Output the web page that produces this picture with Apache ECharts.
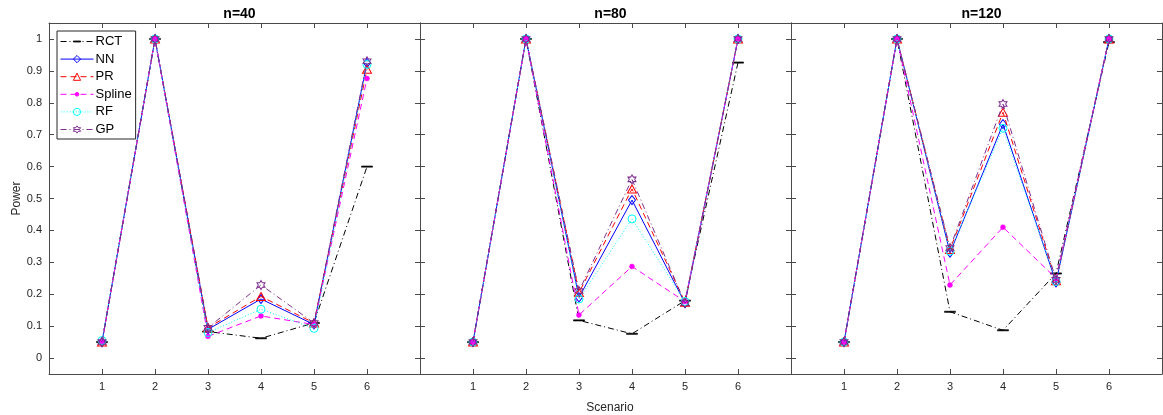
<!DOCTYPE html>
<html>
<head>
<meta charset="utf-8">
<script src="https://cdn.jsdelivr.net/npm/echarts@6/dist/echarts.min.js"></script>
<style>html,body{margin:0;padding:0;background:#fff;}#c{width:1163px;height:415px;}</style>
</head>
<body>
<div id="c"></div>
<script>
// ---- data ----
const scenarios = [1, 2, 3, 4, 5, 6];
const xTickLabels = ['1', '2', '3', '4', '5', '6'];
const yTicks = [0, 0.1, 0.2, 0.3, 0.4, 0.5, 0.6, 0.7, 0.8, 0.9, 1];
const yTickLabels = ['0', '0.1', '0.2', '0.3', '0.4', '0.5', '0.6', '0.7', '0.8', '0.9', '1'];
const panelTitles = ['n=40', 'n=80', 'n=120'];
const methods = ['RCT', 'NN', 'PR', 'Spline', 'RF', 'GP'];

const n40_RCT    = [0.05, 1.0, 0.083, 0.062, 0.11, 0.60];
const n40_NN     = [0.05, 1.0, 0.090, 0.185, 0.105, 0.925];
const n40_PR     = [0.05, 1.0, 0.095, 0.193, 0.11, 0.905];
const n40_Spline = [0.05, 1.0, 0.068, 0.132, 0.105, 0.876];
const n40_RF     = [0.055, 1.0, 0.080, 0.153, 0.093, 0.92];
const n40_GP     = [0.05, 1.0, 0.095, 0.229, 0.11, 0.93];

const n80_RCT    = [0.05, 1.0, 0.118, 0.076, 0.18, 0.926];
const n80_NN     = [0.05, 1.0, 0.190, 0.495, 0.172, 1.0];
const n80_PR     = [0.05, 1.0, 0.205, 0.530, 0.175, 1.0];
const n80_Spline = [0.05, 1.0, 0.135, 0.287, 0.177, 1.0];
const n80_RF     = [0.05, 1.0, 0.185, 0.436, 0.177, 1.0];
const n80_GP     = [0.05, 1.0, 0.210, 0.560, 0.172, 1.0];

const n120_RCT    = [0.05, 1.0, 0.145, 0.087, 0.265, 0.99];
const n120_NN     = [0.05, 1.0, 0.330, 0.733, 0.237, 1.0];
const n120_PR     = [0.05, 1.0, 0.340, 0.770, 0.242, 1.0];
const n120_Spline = [0.05, 1.0, 0.229, 0.410, 0.25, 1.0];
const n120_RF     = [0.05, 1.0, 0.335, 0.720, 0.24, 1.0];
const n120_GP     = [0.05, 1.0, 0.345, 0.796, 0.245, 1.0];

const panels = [
  [n40_RCT, n40_NN, n40_PR, n40_Spline, n40_RF, n40_GP],
  [n80_RCT, n80_NN, n80_PR, n80_Spline, n80_RF, n80_GP],
  [n120_RCT, n120_NN, n120_PR, n120_Spline, n120_RF, n120_GP]
];

// ---- styles ----
const hexagram = 'path://M0,-100L28.9,-50L86.6,-50L57.7,0L86.6,50L28.9,50L0,100L-28.9,50L-86.6,50L-57.7,0L-86.6,-50L-28.9,-50Z';
const hbar = 'path://M10,10M0,0M0,4.45H10V5.55H0Z';
const dot = 'path://M10,10M0,0M7.5,5A2.5,2.5,0,1,1,7.5,4.99Z';
const styles = {
  RCT:    {color: '#000000', dash: [6, 3, 1, 3], symbol: hbar, size: 11, fill: '#000000', bw: 0.6},
  NN:     {color: '#0000FF', dash: 'solid', symbol: 'diamond', size: [7, 9], fill: 'none', bw: 1},
  PR:     {color: '#FF0000', dash: [6, 4], symbol: 'triangle', size: [9, 8], fill: 'none', bw: 1},
  Spline: {color: '#FF00FF', dash: [6, 4], symbol: dot, size: 10, fill: '#FF00FF', bw: 0.5},
  RF:     {color: '#00FFFF', dash: [1, 2], symbol: 'circle', size: 8, fill: 'none', bw: 1},
  GP:     {color: '#7E2F8E', dash: [6, 3, 1, 3], symbol: hexagram, size: [8, 9], fill: 'none', bw: 1}
};

const frameColor = '#4a4a4a';
const textColor = '#262626';
const font = 'Liberation Sans, Arial, sans-serif';

const gridLefts = [49, 420, 791];
const gridW = 371;
const grids = [], xAxes = [], yAxes = [], series = [], titles = [];

panels.forEach((pd, p) => {
  grids.push({left: gridLefts[p], top: 23, width: gridW, height: 351, containLabel: false});
  const xBase = {
    type: 'value', min: 0, max: 7, gridIndex: p,
    splitLine: {show: false},
    axisLine: {show: true, onZero: false, lineStyle: {color: frameColor, width: 1}},
    axisTick: {show: true, inside: true, length: 5, customValues: scenarios, lineStyle: {color: frameColor}}
  };
  xAxes.push(Object.assign({}, xBase, {
    position: 'bottom',
    axisLabel: {show: true, customValues: scenarios, formatter: v => xTickLabels[scenarios.indexOf(v)] || '',
      color: textColor, fontSize: 11, fontFamily: font, margin: 7}
  }));
  xAxes.push(Object.assign({}, xBase, {position: 'top', axisLabel: {show: false}}));
  const yBase = {
    type: 'value', min: -0.05, max: 1.05, gridIndex: p,
    splitLine: {show: false},
    axisLine: {show: true, onZero: false, lineStyle: {color: frameColor, width: 1}},
    axisTick: {show: true, inside: true, length: 5, customValues: yTicks, lineStyle: {color: frameColor}}
  };
  yAxes.push(Object.assign({}, yBase, {
    position: 'left',
    name: p === 0 ? 'Power' : '', nameLocation: 'middle', nameGap: 26,
    nameTextStyle: {color: textColor, fontSize: 12, fontFamily: font},
    axisLabel: {show: p === 0, customValues: yTicks, formatter: v => yTickLabels[yTicks.indexOf(v)] || '',
      color: textColor, fontSize: 11, fontFamily: font, margin: 7}
  }));
  yAxes.push(Object.assign({}, yBase, {position: 'right', axisLabel: {show: false}}));

  titles.push({
    text: panelTitles[p], left: gridLefts[p] + gridW / 2, top: 2, textAlign: 'center',
    textStyle: {fontSize: 14, fontWeight: 'bold', color: '#000', fontFamily: font}
  });

  methods.forEach((m, i) => {
    const s = styles[m];
    series.push({
      name: m, type: 'line', xAxisIndex: p * 2, yAxisIndex: p * 2,
      data: scenarios.map((x, k) => [x, pd[i][k]]),
      symbol: s.symbol, symbolSize: s.size, symbolKeepAspect: false,
      showAllSymbol: true,
      lineStyle: {color: s.color, width: 1, type: s.dash},
      itemStyle: {color: s.fill, borderColor: s.color, borderWidth: s.bw},
      emphasis: {disabled: true},
      z: 2 + i
    });
  });
});

titles.push({
  text: 'Scenario', left: 605, top: 397, textAlign: 'center',
  textStyle: {fontSize: 12, fontWeight: 'normal', color: textColor, fontFamily: font}
});

const option = {
  animation: false,
  backgroundColor: '#fff',
  title: titles,
  grid: grids,
  xAxis: xAxes,
  yAxis: yAxes,
  legend: {
    data: methods, orient: 'vertical', left: 57, top: 31,
    itemWidth: 33, itemHeight: 9, itemGap: 4.6,
    padding: [4, 4, 3, 3],
    backgroundColor: '#fff', borderColor: '#262626', borderWidth: 1,
    lineStyle: {width: 1},
    itemStyle: {borderWidth: 1},
    textStyle: {fontSize: 13, color: '#000', fontFamily: font, padding: [0, 0, 0, -3]},
    selectedMode: false
  },
  series: series
};
const chart = echarts.init(document.getElementById('c'), null, {renderer: 'canvas'});
chart.setOption(option);
</script>
</body>
</html>
